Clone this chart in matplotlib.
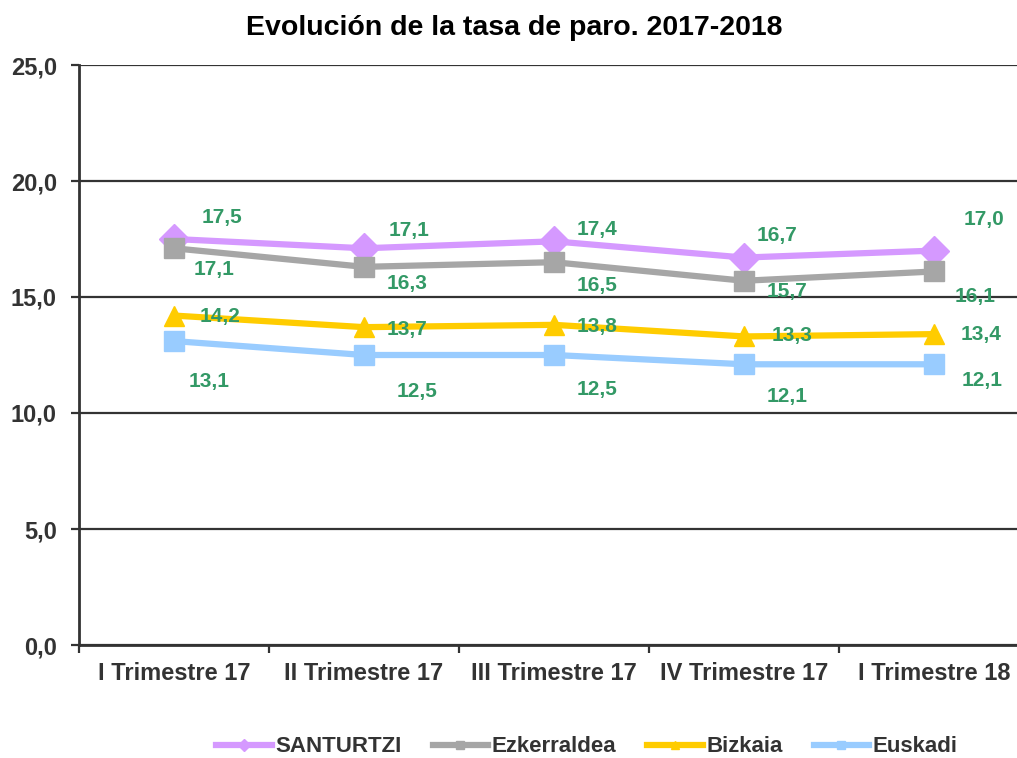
import matplotlib
matplotlib.use("Agg")
import matplotlib.pyplot as plt
import numpy as np

plt.rcParams['font.family'] = ['Liberation Sans', 'DejaVu Sans']
plt.rcParams['font.weight'] = 'bold'

# data
categories = ["I Trimestre 17", "II Trimestre 17", "III Trimestre 17", "IV Trimestre 17", "I Trimestre 18"]
santurtzi = [17.5, 17.1, 17.4, 16.7, 17.0]
ezkerraldea = [17.1, 16.3, 16.5, 15.7, 16.1]
bizkaia = [14.2, 13.7, 13.8, 13.3, 13.4]
euskadi = [13.1, 12.5, 12.5, 12.1, 12.1]

# label placement, pixel offsets (right, down) from each point
santurtzi_off = [(48, -22), (45, -18), (43, -12), (33, -22), (50, -31)]
ezkerraldea_off = [(40, 21), (43, 17), (43, 23), (43, 11), (41, 25)]
bizkaia_off = [(46, 1), (43, 2), (43, 2), (48, -1), (47, 0)]
euskadi_off = [(35, 40), (53, 37), (43, 35), (43, 32), (48, 16)]

# name, values, colour, marker, marker size, label offsets
series = [
  ("SANTURTZI", santurtzi, "#D599FF", "D", 15, santurtzi_off),
  ("Ezkerraldea", ezkerraldea, "#A6A6A6", "s", 14, ezkerraldea_off),
  ("Bizkaia", bizkaia, "#FFCC00", "^", 15, bizkaia_off),
  ("Euskadi", euskadi, "#99CCFF", "s", 14, euskadi_off),
]

dark = "#333333"
green = "#339966"

fig = plt.figure(figsize=(10.17, 7.58), dpi=100)
ax = fig.add_axes([79/1017, 1-645/758, 950/1017, 580/758])

x = np.arange(len(categories))
for name, vals, col, mk, ms, offs in series:
  ax.plot(x, vals, color=col, lw=4.5, marker=mk, ms=ms, label=name, zorder=3)
  for xi, v, (dx, dy) in zip(x, vals, offs):
    ax.annotate(("%.1f" % v).replace(".", ","), (xi, v), xytext=(dx*0.72, -dy*0.72), textcoords="offset points",
                ha="center", va="center", color=green, fontsize=15, fontweight="bold", zorder=4)

ax.set_xlim(-0.5, len(categories)-0.5)
ax.set_ylim(0, 25)
ax.set_yticks(np.arange(0, 26, 5))
ax.set_yticklabels([("%.1f" % t).replace(".", ",") for t in np.arange(0, 26, 5)])
ax.yaxis.grid(True, color=dark, lw=1.6)
ax.set_axisbelow(True)

ax.set_xticks(x)
ax.set_xticklabels(categories)
ax.set_xticks(np.arange(-0.5, len(categories), 1), minor=True)
ax.tick_params(axis="x", which="major", length=0, pad=12, labelsize=17, colors=dark)
ax.tick_params(axis="x", which="minor", length=6, width=1.6, color=dark)
ax.tick_params(axis="y", length=6, width=1.6, color=dark, pad=10, labelsize=17, labelcolor=dark)

for s in ["top", "right"]:
  ax.spines[s].set_visible(False)
for s in ["left", "bottom"]:
  ax.spines[s].set_color(dark)
  ax.spines[s].set_linewidth(2)

for lab in ax.get_xticklabels() + ax.get_yticklabels():
  lab.set_fontweight("bold")

fig.text(514/1017, 1-28/758, "Evolución de la tasa de paro. 2017-2018", ha="center", va="center",
         fontsize=20.5, fontweight="bold", color="black")

leg = fig.legend(loc="center", bbox_to_anchor=(587/1017, 1-747/758), ncol=4, frameon=False,
                 fontsize=16, handlelength=2.5, markerscale=0.4, columnspacing=1.4, handletextpad=0.15)
for t in leg.get_texts():
  t.set_color(dark)
  t.set_fontweight("bold")

fig.savefig("out.png", dpi=100)
